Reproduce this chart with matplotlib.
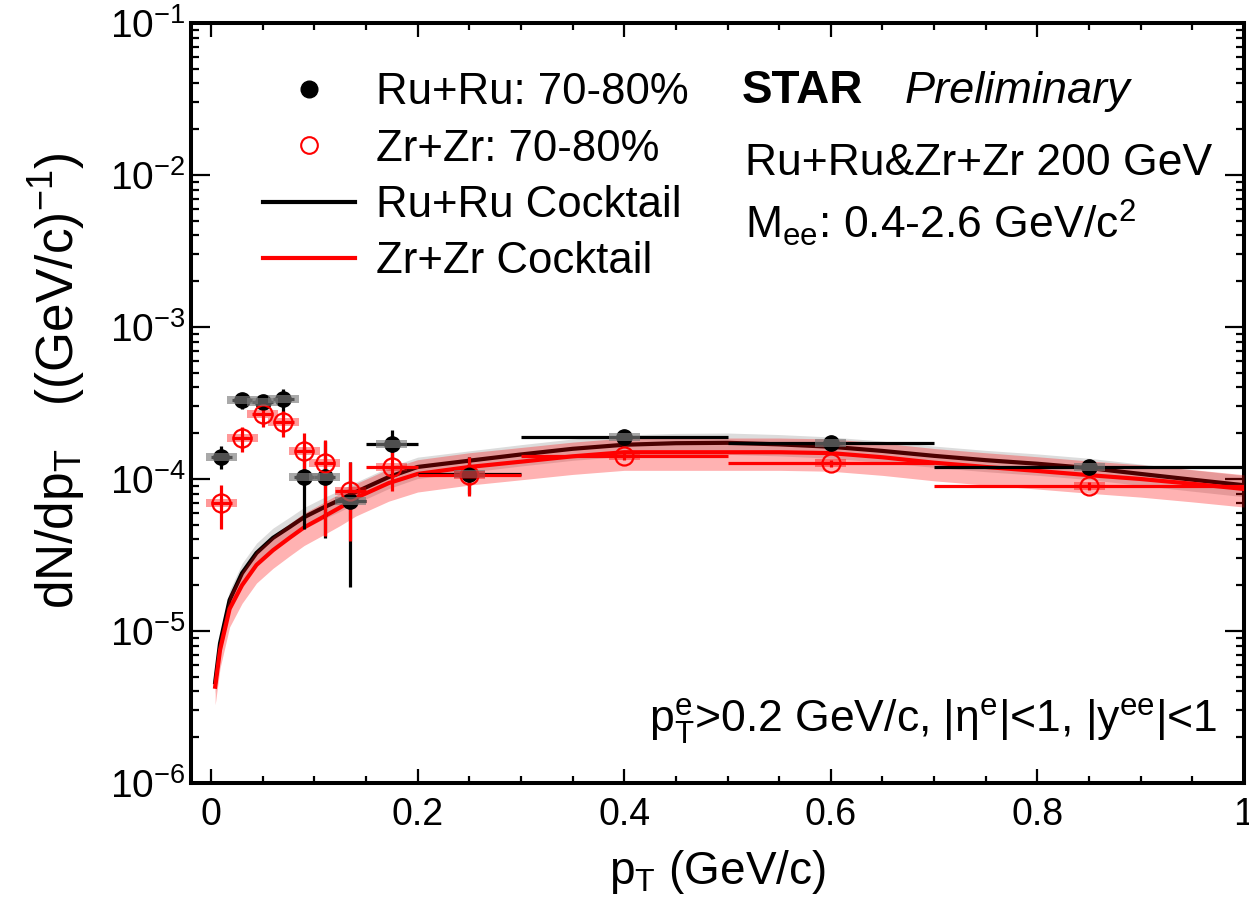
import numpy as np
import matplotlib
matplotlib.use("Agg")
import matplotlib.pyplot as plt
from matplotlib.lines import Line2D
from matplotlib.ticker import FixedLocator, MultipleLocator, LogLocator, NullFormatter

plt.rcParams['font.family'] = ['Liberation Sans', 'DejaVu Sans']
plt.rcParams['mathtext.fontset'] = 'custom'
plt.rcParams['mathtext.rm'] = 'Liberation Sans'
plt.rcParams['mathtext.it'] = 'Liberation Sans:italic'
plt.rcParams['mathtext.bf'] = 'Liberation Sans:bold'
plt.rcParams['mathtext.default'] = 'regular'

# ---------------- data ----------------
pt = [0.01, 0.03, 0.05, 0.07, 0.09, 0.11, 0.135, 0.175, 0.25, 0.4, 0.6, 0.85]
pt_lo = [0.0, 0.02, 0.04, 0.06, 0.08, 0.10, 0.12, 0.15, 0.2, 0.3, 0.5, 0.7]
pt_hi = [0.02, 0.04, 0.06, 0.08, 0.10, 0.12, 0.15, 0.2, 0.3, 0.5, 0.7, 1.0]

ru_val = [1.40e-4, 3.30e-4, 3.20e-4, 3.35e-4, 1.03e-4, 1.03e-4, 7.2e-5, 1.70e-4, 1.08e-4, 1.89e-4, 1.72e-4, 1.20e-4]
ru_up = [1.65e-4, 3.7e-4, 3.5e-4, 3.9e-4, 1.62e-4, 1.77e-4, 1.29e-4, 2.1e-4, 1.4e-4, 1.98e-4, 1.8e-4, 1.27e-4]
ru_dn = [1.16e-4, 2.9e-4, 2.9e-4, 2.6e-4, 4.7e-5, 4.1e-5, 1.96e-5, 1.37e-4, 8.0e-5, 1.80e-4, 1.64e-4, 1.13e-4]

zr_val = [7.0e-5, 1.86e-4, 2.67e-4, 2.36e-4, 1.53e-4, 1.27e-4, 8.4e-5, 1.20e-4, 1.06e-4, 1.42e-4, 1.27e-4, 9.0e-5]
zr_up = [9.1e-5, 2.2e-4, 3.1e-4, 2.8e-4, 2.0e-4, 1.8e-4, 1.29e-4, 1.5e-4, 1.4e-4, 1.5e-4, 1.34e-4, 9.5e-5]
zr_dn = [4.7e-5, 1.5e-4, 2.2e-4, 1.9e-4, 1.0e-4, 4.2e-5, 3.9e-5, 8.3e-5, 7.7e-5, 1.34e-4, 1.2e-4, 8.5e-5]

cock_pt = [0.004, 0.0087, 0.018, 0.03, 0.044, 0.06, 0.076, 0.09, 0.108, 0.125, 0.14, 0.172, 0.2,
           0.25, 0.3, 0.35, 0.4, 0.45, 0.5, 0.55, 0.6, 0.65, 0.7, 0.75, 0.8, 0.85, 0.9, 0.95, 1.0]
cock_ru = [4.6e-6, 8.3e-6, 1.6e-5, 2.4e-5, 3.26e-5, 4.1e-5, 4.83e-5, 5.6e-5, 6.45e-5, 7.3e-5, 8.2e-5,
           1.03e-4, 1.2e-4, 1.32e-4, 1.45e-4, 1.58e-4, 1.68e-4, 1.72e-4, 1.73e-4, 1.69e-4, 1.63e-4,
           1.53e-4, 1.42e-4, 1.33e-4, 1.26e-4, 1.18e-4, 1.08e-4, 9.9e-5, 9.1e-5]
cock_zr = [4.3e-6, 7.5e-6, 1.4e-5, 2.0e-5, 2.72e-5, 3.4e-5, 4.1e-5, 4.8e-5, 5.6e-5, 6.5e-5, 7.5e-5,
           9.4e-5, 1.08e-4, 1.2e-4, 1.3e-4, 1.41e-4, 1.5e-4, 1.5e-4, 1.5e-4, 1.5e-4, 1.48e-4,
           1.39e-4, 1.28e-4, 1.2e-4, 1.13e-4, 1.06e-4, 1.0e-4, 9.3e-5, 8.6e-5]
ru_band_frac = 0.16
zr_band_frac = 0.24
sys_frac = 0.06

xtick_vals = [0, 0.2, 0.4, 0.6, 0.8, 1.0]
xtick_labels = ["0", "0.2", "0.4", "0.6", "0.8", "1"]

legend_labels = ["Ru+Ru: 70-80%", "Zr+Zr: 70-80%", "Ru+Ru Cocktail", "Zr+Zr Cocktail"]

# ---------------- figure ----------------
fig = plt.figure(figsize=(12.49, 9.07), dpi=100)
ax = fig.add_axes([191/1249, 1-783/907, (1244-191)/1249, (783-23)/907])
ax.set_yscale('log')
ax.set_xlim(-0.0194, 1.0)
ax.set_ylim(1e-6, 1e-1)

cp = np.array(cock_pt)
cr = np.array(cock_ru)
cz = np.array(cock_zr)

ax.fill_between(cp, cr*(1-ru_band_frac), cr*(1+ru_band_frac), color='#dcdcdc', lw=0, zorder=1)
ax.plot(cp, cr, color='black', lw=3, zorder=2)
ax.fill_between(cp, cz*(1-zr_band_frac), cz*(1+zr_band_frac), color='red', alpha=0.3, lw=0, zorder=3)
ax.plot(cp, cz, color='red', lw=3, zorder=4)

x = np.array(pt)
xl = x - np.array(pt_lo)
xh = np.array(pt_hi) - x

rv = np.array(ru_val)
zv = np.array(zr_val)
ax.errorbar(x, rv, xerr=[xl, xh], yerr=[rv-np.array(ru_dn), np.array(ru_up)-rv],
            fmt='none', ecolor='black', elinewidth=2.3, capsize=0, zorder=5)
ax.errorbar(x, zv, xerr=[xl, xh], yerr=[zv-np.array(zr_dn), np.array(zr_up)-zv],
            fmt='none', ecolor='red', elinewidth=2.3, capsize=0, zorder=5)
ax.plot(x, rv, 'o', color='black', ms=11, zorder=6)
ax.plot(x, zv, 'o', mfc='none', mec='red', mew=1.6, ms=13, zorder=7)

ax.bar(x, rv*2*sys_frac, bottom=rv*(1-sys_frac), width=0.03, color='#7b7b7b', alpha=0.65, lw=0, zorder=8)
ax.bar(x, zv*2*sys_frac, bottom=zv*(1-sys_frac), width=0.03, color='red', alpha=0.4, lw=0, zorder=8)

# ---------------- axes styling ----------------
for s in ax.spines.values():
    s.set_linewidth(2.9)
ax.xaxis.set_major_locator(FixedLocator(xtick_vals))
ax.set_xticklabels(xtick_labels)
ax.xaxis.set_minor_locator(MultipleLocator(0.05))
ax.yaxis.set_major_locator(LogLocator(base=10, numticks=10))
ax.yaxis.set_minor_locator(LogLocator(base=10, subs=np.arange(2, 10), numticks=20))
ax.yaxis.set_minor_formatter(NullFormatter())
ax.tick_params(which='both', direction='in', top=True, right=True, width=1.6)
ax.tick_params(axis='x', which='major', length=10, labelsize=27, pad=10)
ax.tick_params(axis='x', which='minor', length=5)
ax.tick_params(axis='y', which='major', length=14, labelsize=28, pad=4)
ax.tick_params(axis='y', which='minor', length=6)

ax.set_xlabel(r"p$_T$ (GeV/c)", fontsize=33)
ax.xaxis.set_label_coords(0.5, -0.085)
ax.set_ylabel(r"dN/dp$_T$   ((GeV/c)$^{-1}$)", fontsize=37)
ax.yaxis.set_label_coords(-0.098, 0.53)

# ---------------- legend ----------------
handles = [
    Line2D([], [], ls='none', marker='o', color='black', ms=12),
    Line2D([], [], ls='none', marker='o', mfc='none', mec='red', mew=1.5, ms=12),
    Line2D([], [], color='black', lw=3),
    Line2D([], [], color='red', lw=3),
]
ax.legend(handles, legend_labels, loc='upper left', bbox_to_anchor=(0.0684, 0.935),
          frameon=False, fontsize=31.5, borderpad=0, borderaxespad=0, labelspacing=0.35,
          handlelength=2.1, handletextpad=0.48)

# ---------------- annotations ----------------
ax.text(0.523, 0.895, "STAR", transform=ax.transAxes, fontsize=33, fontweight='bold', va='baseline')
ax.text(0.678, 0.895, "Preliminary", transform=ax.transAxes, fontsize=32.5, style='italic', va='baseline')
ax.text(0.526, 0.800, "Ru+Ru&Zr+Zr 200 GeV", transform=ax.transAxes, fontsize=32, va='baseline')
ax.text(0.526, 0.717, r"M$_{ee}$: 0.4-2.6 GeV/c$^{2}$", transform=ax.transAxes, fontsize=32, va='baseline')
ax.text(0.975, 0.067, r"p$_{T}^{e}$>0.2 GeV/c, |η$^{e}$|<1, |y$^{ee}$|<1", transform=ax.transAxes,
        fontsize=32, va='baseline', ha='right')

fig.savefig("out.png", dpi=100)
